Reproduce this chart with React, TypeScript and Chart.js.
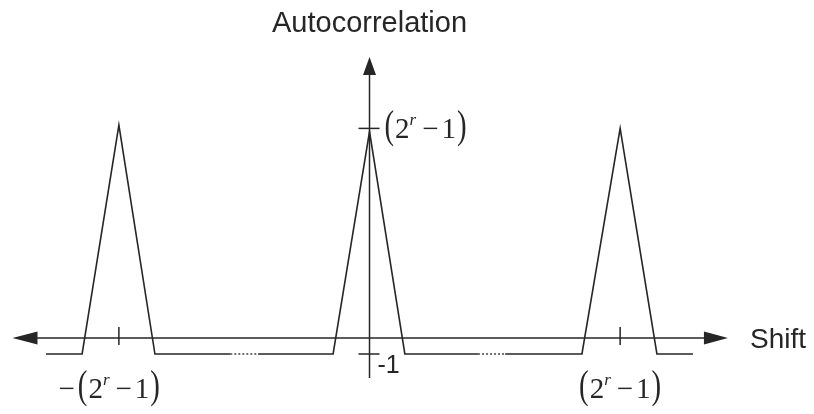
import { useEffect, useRef } from "react";
import { Chart, registerables } from "chart.js";

Chart.register(...registerables);

const WIDTH = 814;
const HEIGHT = 414;

// Shift is measured in chips; one period of the sequence spans 7 chips.
const leftTraceShift = [-9.06, -8.05, -7.02, -6.01, -3.9];
const leftTraceValue = [-1, -1, 13.3, -1, -1];
const leftGapShift = [-3.9, -3.12];
const centreTraceShift = [-3.12, -1.02, 0, 0.99, 3.04];
const centreTraceValue = [-1, -1, 12.9, -1, -1];
const rightGapShift = [3.04, 3.8];
const rightTraceShift = [3.8, 5.95, 7.02, 8.05, 9.06];
const rightTraceValue = [-1, -1, 13.1, -1, -1];
const offPeakValue = -1;

// Axis ticks and their labels
const peakTickValue = 13.1;
const periodTickShifts = [-7.02, 7.02];
const periodTickSigns = ["−", ""];
const axisTitleY = "Autocorrelation";
const axisTitleX = "Shift";
const offPeakLabel = "-1";

// Visible extent of the scales and of the drawn axes
const shiftMin = -10.35;
const shiftMax = 12.45;
const valueMin = -4.75;
const valueMax = 21.125;
const axisShiftFrom = -10.0;
const axisShiftTo = 10.04;
const axisValueFrom = -2.5;
const axisValueTo = 17.56;

const INK = "#262626";
const SANS = '"Liberation Sans", Arial, sans-serif';
const SERIF = '"Liberation Serif", "Times New Roman", serif';

const pts = (xs: number[], ys: number[]) => xs.map((x, i) => ({ x, y: ys[i] }));
const flat = (xs: number[]) => xs.map((x) => ({ x, y: offPeakValue }));

function arrowHead(
  ctx: CanvasRenderingContext2D,
  tipX: number,
  tipY: number,
  dirX: number,
  dirY: number,
  length: number,
  halfWidth: number
) {
  const bx = tipX - dirX * length;
  const by = tipY - dirY * length;
  ctx.beginPath();
  ctx.moveTo(tipX, tipY);
  ctx.lineTo(bx - dirY * halfWidth, by + dirX * halfWidth);
  ctx.lineTo(bx + dirY * halfWidth, by - dirX * halfWidth);
  ctx.closePath();
  ctx.fill();
}

// Draws "(2^r − 1)" with an optional leading sign; the bracketed group is centred
// on cx (align "center") or starts at cx (align "left"). baseY is the text baseline.
function drawPeriodLabel(
  ctx: CanvasRenderingContext2D,
  cx: number,
  baseY: number,
  sign: string,
  align: "center" | "left"
) {
  const parenFont = `40px ${SERIF}`;
  const mainFont = `29px ${SERIF}`;
  const supFont = `italic 17px ${SERIF}`;
  const parenSqueeze = 0.72;
  const parts: { t: string; font: string; dy: number; gapAfter: number; sx: number }[] = [
    { t: "(", font: parenFont, dy: 0, gapAfter: 1, sx: parenSqueeze },
    { t: "2", font: mainFont, dy: 0, gapAfter: 0, sx: 1 },
    { t: "r", font: supFont, dy: -13, gapAfter: 6, sx: 1 },
    { t: "−", font: mainFont, dy: 0, gapAfter: 3, sx: 1 },
    { t: "1", font: mainFont, dy: 0, gapAfter: 1, sx: 1 },
    { t: ")", font: parenFont, dy: 0, gapAfter: 0, sx: parenSqueeze },
  ];
  let total = 0;
  const widths = parts.map((p) => {
    ctx.font = p.font;
    const w = ctx.measureText(p.t).width * p.sx;
    total += w + p.gapAfter;
    return w;
  });
  let x = align === "center" ? cx - total / 2 : cx;
  ctx.textAlign = "left";
  ctx.textBaseline = "alphabetic";
  if (sign) {
    ctx.font = mainFont;
    const sw = ctx.measureText(sign).width;
    ctx.fillText(sign, x - sw - 3, baseY);
  }
  parts.forEach((p, i) => {
    ctx.font = p.font;
    ctx.save();
    ctx.translate(x, baseY + p.dy);
    ctx.scale(p.sx, 1);
    ctx.fillText(p.t, 0, 0);
    ctx.restore();
    x += widths[i] + p.gapAfter;
  });
}

const axesPlugin = {
  id: "autocorrAxes",
  beforeDatasetsDraw(chart: any) {
    const { ctx, scales } = chart;
    const px = (v: number) => scales.x.getPixelForValue(v);
    const py = (v: number) => scales.y.getPixelForValue(v);
    const x0 = px(0);
    const y0 = py(0);
    ctx.save();
    ctx.strokeStyle = INK;
    ctx.fillStyle = INK;
    ctx.lineWidth = 1.5;

    // Shift axis with arrows at both ends
    const xl = px(axisShiftFrom);
    const xr = px(axisShiftTo);
    ctx.beginPath();
    ctx.moveTo(xl + 10, y0);
    ctx.lineTo(xr - 10, y0);
    ctx.stroke();
    arrowHead(ctx, xl, y0, -1, 0, 25, 6.5);
    arrowHead(ctx, xr, y0, 1, 0, 24, 6.5);

    // Autocorrelation axis
    const yt = py(axisValueTo);
    ctx.beginPath();
    ctx.moveTo(x0, py(axisValueFrom));
    ctx.lineTo(x0, yt + 10);
    ctx.stroke();
    arrowHead(ctx, x0, yt, 0, -1, 18, 6.5);

    // Ticks on the shift axis at ±one period
    periodTickShifts.forEach((s) => {
      ctx.beginPath();
      ctx.moveTo(px(s), y0 - 11);
      ctx.lineTo(px(s), y0 + 7);
      ctx.stroke();
    });

    // Ticks on the autocorrelation axis
    [peakTickValue, offPeakValue].forEach((v) => {
      ctx.beginPath();
      ctx.moveTo(x0 - 11, py(v));
      ctx.lineTo(x0 + 10, py(v));
      ctx.stroke();
    });
    ctx.restore();
  },
  afterDatasetsDraw(chart: any) {
    const { ctx, scales } = chart;
    const px = (v: number) => scales.x.getPixelForValue(v);
    const py = (v: number) => scales.y.getPixelForValue(v);
    const x0 = px(0);
    const y0 = py(0);
    ctx.save();
    ctx.fillStyle = INK;

    ctx.font = `29px ${SANS}`;
    ctx.textAlign = "center";
    ctx.textBaseline = "alphabetic";
    ctx.fillText(axisTitleY, x0, 32);

    ctx.font = `28px ${SANS}`;
    ctx.textAlign = "left";
    ctx.fillText(axisTitleX, px(axisShiftTo) + 22, y0 + 10);

    ctx.font = `25px ${SANS}`;
    ctx.fillText(offPeakLabel, x0 + 8, py(offPeakValue) + 19);

    drawPeriodLabel(ctx, x0 + 15, py(peakTickValue) + 10, "", "left");
    periodTickShifts.forEach((s, i) => {
      drawPeriodLabel(ctx, px(s), 398, periodTickSigns[i], "center");
    });
    ctx.restore();
  },
};

export default function App() {
  const canvasRef = useRef<HTMLCanvasElement>(null);

  useEffect(() => {
    const canvas = canvasRef.current;
    if (!canvas) return;
    const solid = { borderColor: INK, borderWidth: 1.6, pointRadius: 0, tension: 0, fill: false };
    const dotted = { ...solid, borderWidth: 1.3, borderDash: [2, 2] };
    const chart = new Chart(canvas, {
      type: "line",
      data: {
        datasets: [
          { ...solid, data: pts(leftTraceShift, leftTraceValue) },
          { ...dotted, data: flat(leftGapShift) },
          { ...solid, data: pts(centreTraceShift, centreTraceValue) },
          { ...dotted, data: flat(rightGapShift) },
          { ...solid, data: pts(rightTraceShift, rightTraceValue) },
        ],
      },
      options: {
        responsive: false,
        animation: false,
        layout: { padding: 0 },
        plugins: { legend: { display: false }, tooltip: { enabled: false } },
        scales: {
          x: { type: "linear", min: shiftMin, max: shiftMax, display: false },
          y: { type: "linear", min: valueMin, max: valueMax, display: false },
        },
      },
      plugins: [axesPlugin],
    });
    return () => chart.destroy();
  }, []);

  return (
    <div style={{ position: "absolute", left: 0, top: 0, width: WIDTH, height: HEIGHT, background: "#fff" }}>
      <canvas ref={canvasRef} width={WIDTH} height={HEIGHT} />
    </div>
  );
}
